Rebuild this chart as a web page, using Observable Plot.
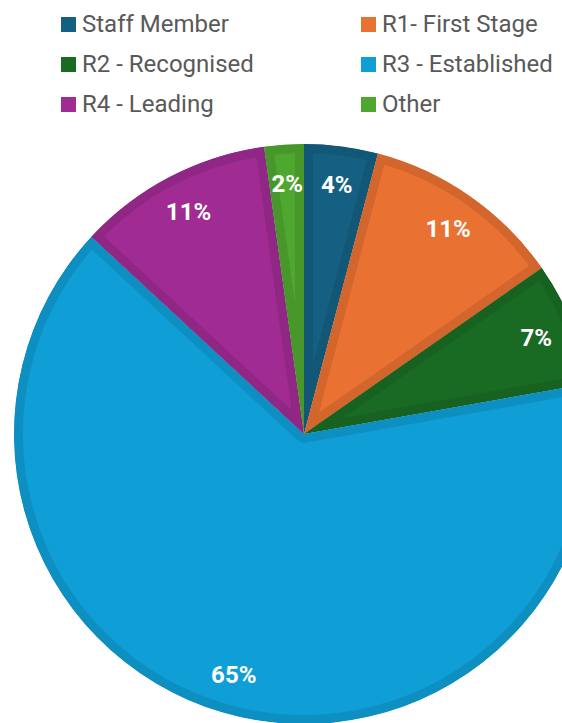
<!DOCTYPE html>
<html>
<head>
<meta charset="utf-8">
<script src="https://cdn.jsdelivr.net/npm/d3@7"></script>
<script src="https://cdn.jsdelivr.net/npm/@observablehq/plot@0.6"></script>
<style>
  html, body { margin: 0; padding: 0; background: #fff; overflow: hidden; }
  #legend { position: relative; height: 125px; font-family: Roboto, "Noto Sans", sans-serif; font-size: 24px; color: #595959; }
  .item { position: absolute; display: flex; align-items: center; white-space: nowrap; height: 30px; line-height: 30px; }
  .sw { width: 15px; height: 15px; margin-right: 6px; flex: none; }
  #chart svg { overflow: hidden; display: block; }
</style>
</head>
<body>
<div id="legend"></div>
<div id="chart"></div>
<script>
const categories = ["Staff Member", "R1- First Stage", "R2 - Recognised", "R3 - Established", "R4 - Leading", "Other"];
const values = [4.1, 11.2, 6.9, 64.7, 10.9, 2.2];
const labels = ["4%", "11%", "7%", "65%", "11%", "2%"];
const colors = ["#156082", "#E97132", "#196B24", "#0F9ED5", "#A02B93", "#4EA72E"];

// legend (two columns)
const legend = document.getElementById("legend");
categories.forEach((c, i) => {
  const col = i % 2, row = Math.floor(i / 2);
  const el = document.createElement("div");
  el.className = "item";
  el.style.left = (col === 0 ? 61 : 361) + "px";
  el.style.top = (9 + row * 40) + "px";
  el.innerHTML = `<span class="sw" style="background:${colors[i]}"></span><span>${c}</span>`;
  legend.appendChild(el);
});

const pie = d3.pie().sort(null).value(d => d.value);
const data = categories.map((c, i) => ({category: c, value: values[i], label: labels[i], color: colors[i]}));
const arcs = pie(data).map(a => {
  const mid = (a.startAngle + a.endAngle) / 2;
  return {...a, mid, lx: 0.865 * Math.sin(mid), ly: 0.865 * Math.cos(mid)};
});

const W = 562, H = 598;
const cx = 304, cy = 309, R = 290;

function pieMark(index, scales, values, dimensions, context) {
  const x0 = scales.x(0), y0 = scales.y(0);
  const r = scales.x(1) - scales.x(0);
  const g = d3.create("svg:g").attr("transform", `translate(${x0},${y0})`);
  const arcGen = d3.arc().innerRadius(0).outerRadius(r);
  const defs = g.append("defs");
  arcs.forEach((a, i) => {
    const id = "clip-slice-" + i;
    defs.append("clipPath").attr("id", id)
      .append("path").attr("d", arcGen(a));
    g.append("path")
      .attr("d", arcGen(a))
      .attr("fill", a.data.color)
      .attr("stroke", d3.color(a.data.color).darker(0.28).formatHex())
      .attr("stroke-width", 18)
      .attr("stroke-linejoin", "round")
      .attr("clip-path", `url(#${id})`);
  });
  return g.node();
}

const chart = Plot.plot({
  width: W,
  height: H,
  margin: 0,
  x: {domain: [-1, 1], range: [cx - R, cx + R], axis: null},
  y: {domain: [-1, 1], range: [cy + R, cy - R], axis: null},
  style: {overflow: "hidden"},
  marks: [
    pieMark,
    Plot.text(arcs, {
      x: "lx", y: "ly", text: d => d.data.label,
      fill: "white", fontWeight: "bold", fontSize: 24,
      fontFamily: "Roboto, 'Noto Sans', sans-serif"
    })
  ]
});
document.getElementById("chart").appendChild(chart);
</script>
</body>
</html>
